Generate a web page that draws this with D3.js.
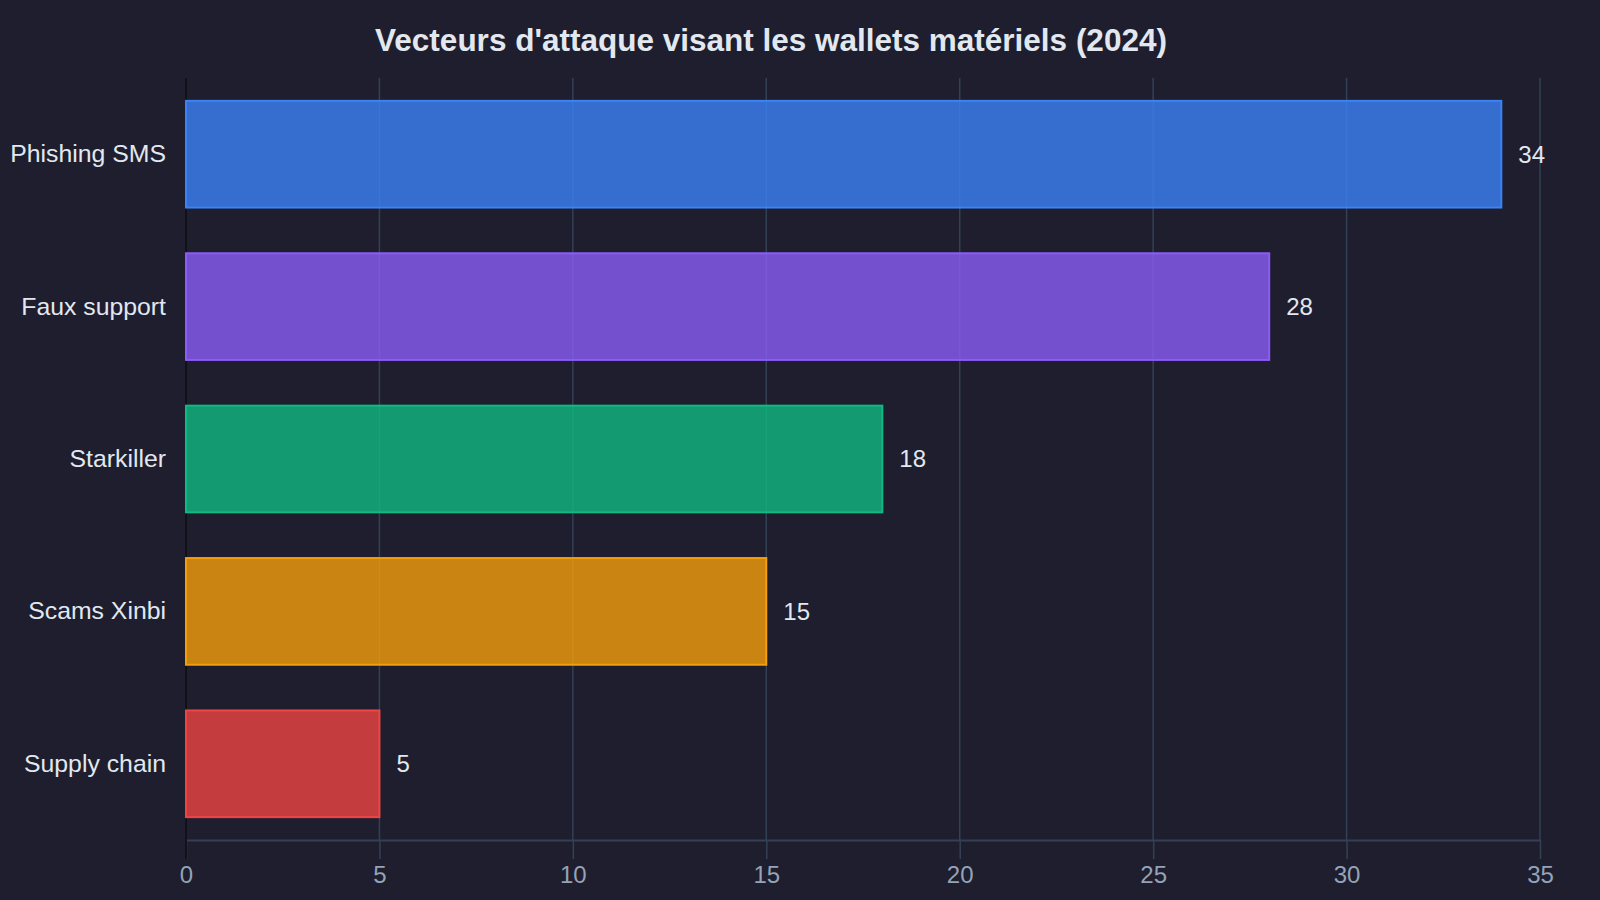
<!DOCTYPE html>
<html>
<head>
<meta charset="utf-8">
<script src="https://cdn.jsdelivr.net/npm/d3@7"></script>
<style>
  html, body { margin: 0; padding: 0; background: #1e1e2e; }
  svg { display: block; font-family: "Liberation Sans", Arial, sans-serif; }
</style>
</head>
<body>
<svg id="chart"></svg>
<script>
// data
const categories = ['Phishing SMS', 'Faux support', 'Starkiller', 'Scams Xinbi', 'Supply chain'];
const values = [34, 28, 18, 15, 5];
const barColors = ['#3b82f6', '#8b5cf6', '#10b981', '#f59e0b', '#ef4444'];
const xTicks = [0, 5, 10, 15, 20, 25, 30, 35];
const title = "Vecteurs d'attaque visant les wallets matériels (2024)";

const width = 1600, height = 900;
const margin = { top: 78, right: 60, bottom: 60, left: 186 };

const svg = d3.select('#chart')
  .attr('width', width)
  .attr('height', height)
  .style('background-color', '#1e1e2e');

svg.append('text')
  .attr('x', 771)
  .attr('y', 40)
  .attr('dy', '0.35em')
  .attr('text-anchor', 'middle')
  .style('font-size', '31.5px')
  .style('font-weight', 'bold')
  .style('fill', '#e2e8f0')
  .text(title);

const x = d3.scaleLinear().domain([0, 35]).range([margin.left, width - margin.right]);
const y = d3.scaleBand().domain(categories)
  .range([margin.top, height - margin.bottom])
  .paddingInner(0.3)
  .paddingOuter(0.15);

// grid + x axis
const xAxis = svg.append('g')
  .attr('transform', `translate(0,${height - margin.bottom})`)
  .call(d3.axisBottom(x).tickValues(xTicks).tickSize(19).tickSizeOuter(0));
xAxis.select('.domain').attr('stroke', '#334155').attr('stroke-width', 2);
xAxis.selectAll('.tick line').attr('stroke', '#334155').attr('stroke-width', 1.5);
xAxis.selectAll('.tick text')
  .attr('y', 35)
  .attr('dy', '0.35em')
  .style('font-size', '24px')
  .style('font-family', '"Liberation Sans", Arial, sans-serif')
  .style('fill', '#94a3b8');

svg.append('g')
  .selectAll('line')
  .data(xTicks.filter(d => d > 0))
  .enter()
  .append('line')
  .attr('x1', d => x(d)).attr('x2', d => x(d))
  .attr('y1', margin.top).attr('y2', height - margin.bottom)
  .attr('stroke', '#334155')
  .attr('stroke-width', 1.5);

// y axis
const yAxis = svg.append('g')
  .attr('transform', `translate(${margin.left},0)`)
  .call(d3.axisLeft(y).tickSize(0).tickPadding(20));
yAxis.select('.domain').remove();
yAxis.selectAll('.tick text')
  .style('font-size', '24.8px')
  .style('font-family', '"Liberation Sans", Arial, sans-serif')
  .style('fill', '#e2e8f0');

svg.append('line')
  .attr('x1', margin.left).attr('x2', margin.left)
  .attr('y1', margin.top).attr('y2', height - margin.bottom + 19)
  .attr('stroke', '#111118')
  .attr('stroke-width', 2);

// bars
svg.append('g')
  .selectAll('rect')
  .data(categories)
  .enter()
  .append('rect')
  .attr('x', x(0))
  .attr('y', d => y(d))
  .attr('width', (d, i) => x(values[i]) - x(0))
  .attr('height', y.bandwidth())
  .attr('fill', (d, i) => barColors[i])
  .attr('fill-opacity', 0.8)
  .attr('stroke', (d, i) => barColors[i])
  .attr('stroke-width', 2);

// value labels
svg.append('g')
  .selectAll('text')
  .data(categories)
  .enter()
  .append('text')
  .attr('x', (d, i) => x(values[i]) + 17)
  .attr('y', d => y(d) + y.bandwidth() / 2)
  .attr('dy', '0.35em')
  .style('font-size', '24px')
  .style('fill', '#e2e8f0')
  .text((d, i) => values[i]);
</script>
</body>
</html>
